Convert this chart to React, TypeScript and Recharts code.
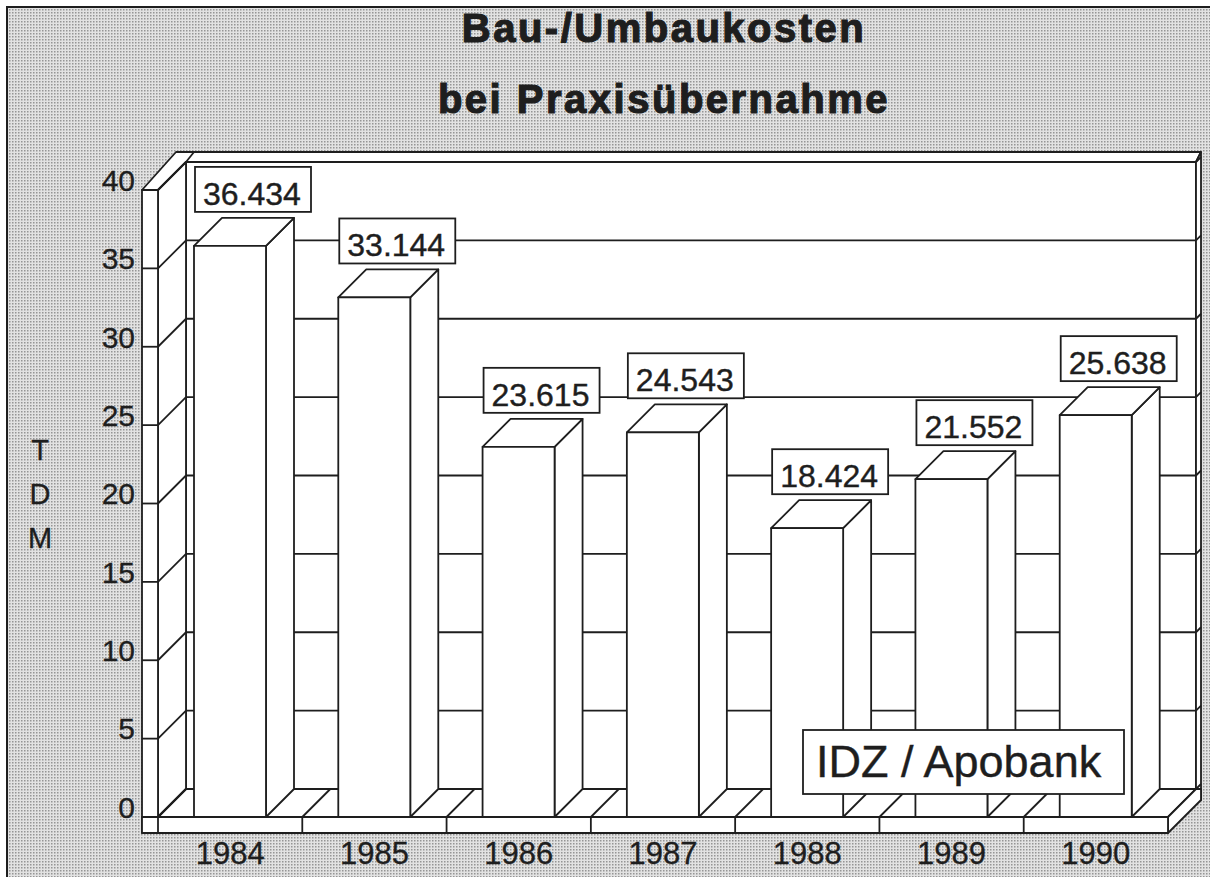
import { BarChart, Bar, XAxis, YAxis, CartesianGrid, LabelList } from "recharts";

const years = ["1984", "1985", "1986", "1987", "1988", "1989", "1990"];
const costs = [36.434, 33.144, 23.615, 24.543, 18.424, 21.552, 25.638];
const yTicks = [0, 5, 10, 15, 20, 25, 30, 35, 40];
const unitLetters = ["T", "D", "M"];
const titleLines = ["Bau-/Umbaukosten", "bei Praxisübernahme"];
const sourceText = "IDZ / Apobank";

const W = 1210;
const H = 877;
// plot area of the front plane
const LEFT = 158;
const TOP = 190;
const RIGHT = 1168;
const BOTTOM = 817;
const DEPTH = 28;
const FACE = 16;
const INK = "#1e1e1e";
const LW = 1.8;
const FONT = '"Liberation Sans", Arial, Helvetica, sans-serif';

const data = years.map((year, i) => ({ year, cost: costs[i] }));
const band = (RIGHT - LEFT) / years.length;

const BL = LEFT + DEPTH;
const BT = TOP - DEPTH;
const BR = RIGHT + DEPTH;
const BB = BOTTOM - DEPTH;

function Box3D(props: any) {
  const { x, y, width: w, height: h } = props;
  const d = DEPTH;
  return (
    <g stroke={INK} strokeWidth={LW} fill="#fff" strokeLinejoin="round">
      <polygon
        points={`${x + w},${y} ${x + w + d},${y - d} ${x + w + d},${y + h - d} ${x + w},${y + h}`}
      />
      <polygon points={`${x},${y} ${x + d},${y - d} ${x + w + d},${y - d} ${x + w},${y}`} />
      <rect x={x} y={y} width={w} height={h} />
    </g>
  );
}

function ValueTag(props: any) {
  const { x, y, value } = props;
  const text = Number(value).toFixed(3);
  const bottom = y - DEPTH - 6;
  return (
    <g>
      <rect
        x={x + 1}
        y={bottom - 45}
        width={116}
        height={45}
        fill="#fff"
        stroke={INK}
        strokeWidth={LW}
      />
      <text
        x={x + 9}
        y={bottom - 7}
        fontSize={32}
        fill={INK}
        stroke={INK}
        strokeWidth={0.4}
        fontFamily={FONT}
      >
        {text}
      </text>
    </g>
  );
}

function WallLine(props: any) {
  const { x1, x2, y1, index } = props;
  return (
    <g key={`wall-${index}`} stroke={INK} strokeWidth={LW}>
      <line x1={x1} y1={y1} x2={x1 + DEPTH} y2={y1 - DEPTH} />
      <line x1={x1 + DEPTH} y1={y1 - DEPTH} x2={x2 + DEPTH} y2={y1 - DEPTH} />
      <line x1={x2 + DEPTH} y1={y1 - DEPTH} x2={x2 + DEPTH + 5} y2={y1 - DEPTH - 5} />
    </g>
  );
}

function YTick(props: any) {
  const { y, payload } = props;
  return (
    <g>
      <line x1={LEFT - FACE} x2={LEFT} y1={y} y2={y} stroke={INK} strokeWidth={LW} />
      <text
        x={135}
        y={y - 10}
        dy="0.36em"
        textAnchor="end"
        fontSize={30}
        fill={INK}
        stroke={INK}
        strokeWidth={0.3}
        fontFamily={FONT}
      >
        {payload.value}
      </text>
    </g>
  );
}

function XTick(props: any) {
  const { x, payload } = props;
  const bx = x - band / 2;
  return (
    <g>
      <g stroke={INK} strokeWidth={LW}>
        <line x1={bx} y1={BOTTOM} x2={bx} y2={BOTTOM + FACE} />
        <line x1={bx} y1={BOTTOM} x2={bx + DEPTH} y2={BOTTOM - DEPTH} />
      </g>
      <text
        x={x}
        y={864}
        textAnchor="middle"
        fontSize={31}
        fill={INK}
        stroke={INK}
        strokeWidth={0.3}
        fontFamily={FONT}
      >
        {payload.value}
      </text>
    </g>
  );
}

export default function App() {
  return (
    <div style={{ position: "absolute", left: 0, top: 0, width: W, height: H, overflow: "hidden" }}>
      <svg width={W} height={H} style={{ position: "absolute", left: 0, top: 0 }}>
        <defs>
          <pattern id="screen" width="3" height="3" patternUnits="userSpaceOnUse">
            <rect width="3" height="3" fill="#e2e2e2" />
            <rect width="1.5" height="1.5" fill="#959595" />
          </pattern>
        </defs>
        <rect x={7} y={7} width={W} height={H} fill="url(#screen)" stroke={INK} strokeWidth={2} />
        <g stroke={INK} strokeWidth={LW} fill="#fff" strokeLinejoin="round">
          {/* back wall */}
          <rect x={BL} y={BT} width={BR - BL} height={BB - BT} />
          {/* top ledge */}
          <polygon
            points={`${LEFT - FACE},${TOP} ${BL - 10},${BT - 10} ${BR + 5},${BT - 10} ${BR},${BT} ${BL},${BT} ${LEFT},${TOP}`}
          />
          <line x1={BL} y1={BT} x2={BL + 8} y2={BT - 10} />
          {/* right edge */}
          <polygon points={`${BR},${BT} ${BR + 5},${BT - 10} ${BR + 5},${BB + 11} ${BR},${BB}`} />
          {/* left wall */}
          <polygon points={`${LEFT},${TOP} ${BL},${BT} ${BL},${BB} ${LEFT},${BOTTOM}`} />
          <rect x={LEFT - FACE} y={TOP} width={FACE} height={BOTTOM + FACE - TOP} />
          {/* floor */}
          <polygon points={`${LEFT},${BOTTOM} ${BL},${BB} ${BR},${BB} ${RIGHT},${BOTTOM}`} />
          <polygon
            points={`${RIGHT},${BOTTOM} ${BR},${BB} ${BR + 5},${BB} ${BR + 5},${BB + 11} ${RIGHT},${BOTTOM + FACE}`}
          />
          <rect x={LEFT - FACE} y={BOTTOM} width={RIGHT - LEFT + FACE} height={FACE} />
        </g>
      </svg>

      <div style={{ position: "absolute", left: 0, top: 0 }}>
        <BarChart
          width={W}
          height={H}
          data={data}
          margin={{ top: TOP, right: W - RIGHT, bottom: 0, left: LEFT - 60 }}
        >
          <CartesianGrid vertical={false} horizontal={WallLine} />
          <XAxis
            dataKey="year"
            height={H - BOTTOM}
            axisLine={false}
            tickLine={false}
            tick={<XTick />}
            interval={0}
          />
          <YAxis
            width={60}
            domain={[0, 40]}
            ticks={yTicks}
            axisLine={false}
            tickLine={false}
            tick={<YTick />}
            interval={0}
          />
          <Bar dataKey="cost" barSize={72} shape={<Box3D />} isAnimationActive={false}>
            <LabelList dataKey="cost" content={<ValueTag />} />
          </Bar>
        </BarChart>
      </div>

      <svg
        width={W}
        height={H}
        style={{ position: "absolute", left: 0, top: 0, pointerEvents: "none" }}
      >
        {titleLines.map((line, i) => (
          <text
            key={line}
            x={664}
            y={42 + i * 71}
            textAnchor="middle"
            fontSize={40}
            fontWeight="bold"
            letterSpacing={2.5}
            fill={INK}
            stroke={INK}
            strokeWidth={1.2}
            fontFamily={FONT}
          >
            {line}
          </text>
        ))}
        {unitLetters.map((ch, i) => (
          <text
            key={ch}
            x={40}
            y={450 + i * 44}
            dy="0.36em"
            textAnchor="middle"
            fontSize={29}
            fill={INK}
            stroke={INK}
            strokeWidth={0.3}
            fontFamily={FONT}
          >
            {ch}
          </text>
        ))}
        <rect x={803} y={730} width={321} height={64} fill="#fff" stroke={INK} strokeWidth={LW} />
        <text
          x={816}
          y={777}
          fontSize={45}
          fill={INK}
          stroke={INK}
          strokeWidth={0.4}
          fontFamily={FONT}
        >
          {sourceText}
        </text>
      </svg>
    </div>
  );
}
